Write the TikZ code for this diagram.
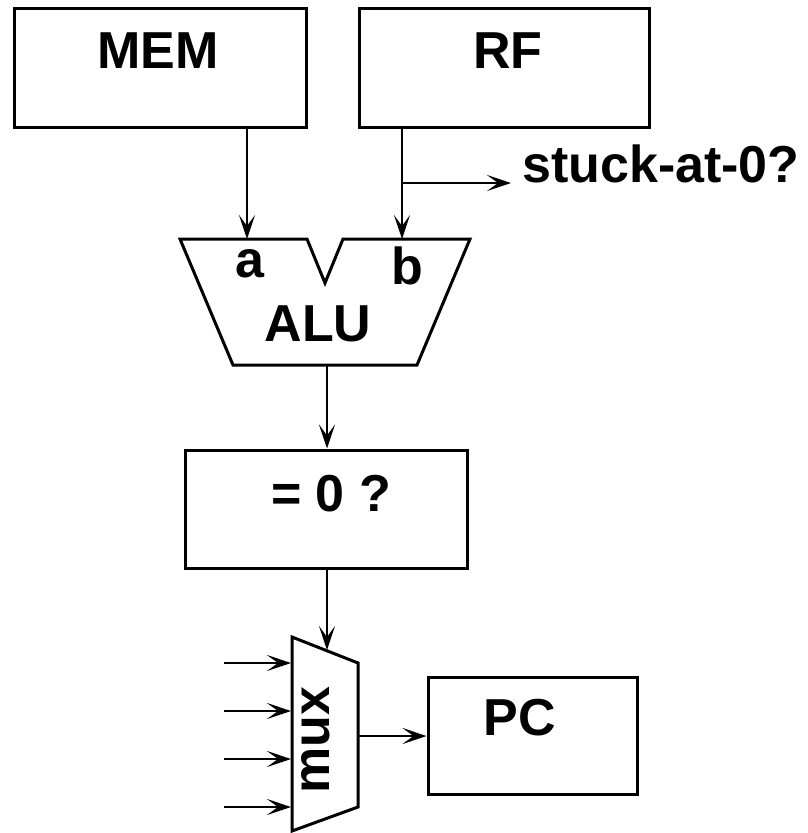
\documentclass[tikz,border=0pt]{standalone}
\usepackage{fontspec}
\setmainfont{Liberation Sans}
\usetikzlibrary{arrows.meta}
\tikzset{
  blk/.style={draw, line width=3pt, inner sep=0pt},
  lbl/.style={font=\bfseries\fontsize{52}{62}\selectfont, inner sep=0pt, anchor=base},
  arr/.style={-{Stealth[length=24pt,width=16pt,inset=11pt]}, line width=2.2pt},
}
\begin{document}
\begin{tikzpicture}[x=1pt,y=-1pt]
\useasboundingbox (0,0) rectangle (807,833);

% memory and register file
\node[blk, minimum width=292pt, minimum height=119pt] (mem) at (160,67.5) {};
\node[blk, minimum width=290pt, minimum height=119pt] (rf) at (504,67.5) {};
\node[lbl] (memtxt) at (158,68) {MEM};
\node[lbl] (rftxt) at (508,68) {RF};

% ALU
\draw[line width=3pt] (180,239) -- (307,239) -- (325,283) -- (343,239) -- (470,239)
  -- (417,365) -- (233,365) -- cycle;
\coordinate (alu-a) at (247,239);
\coordinate (alu-b) at (402,239);
\coordinate (alu-out) at (327,365);
\node[lbl] (atxt) at (250,277) {a};
\node[lbl] (btxt) at (407,284) {b};
\node[lbl] (alutxt) at (318,341) {ALU};

\draw[arr] (mem.south -| alu-a) -- (alu-a);
\draw[arr] (rf.south -| alu-b) -- (alu-b);

% stuck-at tap
\coordinate (tap) at (402,183);
\coordinate (stuck-in) at (511,183);
\node[lbl, anchor=base west] (stuck) at (522,182) {stuck-at-0?};
\draw[arr] (tap) -- (stuck-in);

% zero test
\node[blk, minimum width=282pt, minimum height=118pt] (zero) at (326,509) {};
\node[lbl] (zerotxt) at (331,511) {= 0 ?};
\draw[arr] (alu-out) -- (zero.north -| alu-out);

% mux
\draw[line width=3pt] (292,637) -- (358,663) -- (358,807) -- (292,831) -- cycle;
\coordinate (mux-sel) at (327,650);
\coordinate (mux-out) at (358,736);
\node[lbl, anchor=center, rotate=90] (muxtxt) at (316,740) {mux};
\draw[arr] (zero.south -| mux-sel) -- (mux-sel);
\foreach \y [count=\i] in {663,711,759,807} {
  \coordinate (in\i) at (291,\y);
  \draw[arr] (in\i) ++(-67,0) -- (in\i);
}

% program counter
\node[blk, minimum width=209pt, minimum height=117pt] (pc) at (532.5,735.5) {};
\node[lbl] (pctxt) at (520,735) {PC};
\draw[arr] (mux-out) -- (pc.west |- mux-out);

\end{tikzpicture}
\end{document}
